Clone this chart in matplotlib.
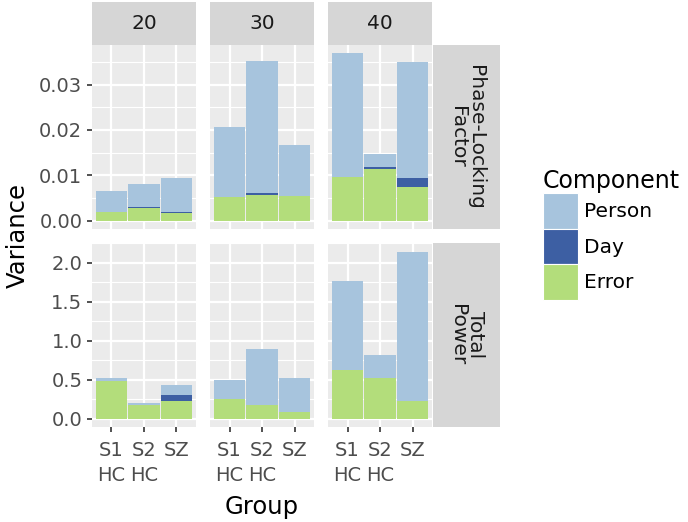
import numpy as np
import matplotlib
matplotlib.use("Agg")
import matplotlib.pyplot as plt
from matplotlib.patches import Patch

plt.rcParams['font.family'] = ['DejaVu Sans']

# Data
groups = ["S1\nHC", "S2\nHC", "SZ"]
freqs = ["20", "30", "40"]
measures = ["Phase-Locking\nFactor", "Total\nPower"]
components = ["Person", "Day", "Error"]

plf_error = [[0.0019, 0.0027, 0.0016], [0.0052, 0.0057, 0.0055], [0.0096, 0.0113, 0.0074]]
plf_day = [[0.0000, 0.0003, 0.0002], [0.0000, 0.0004, 0.0000], [0.0000, 0.0006, 0.0021]]
plf_person = [[0.00465, 0.0051, 0.0077], [0.0154, 0.0291, 0.0111], [0.0273, 0.0027, 0.0255]]

tp_error = [[0.485, 0.173, 0.224], [0.249, 0.169, 0.080], [0.629, 0.527, 0.224]]
tp_day = [[0.000, 0.005, 0.084], [0.000, 0.000, 0.000], [0.000, 0.000, 0.000]]
tp_person = [[0.034, 0.022, 0.118], [0.249, 0.717, 0.447], [1.135, 0.292, 1.911]]

colors = {"Person": "#A7C4DD", "Day": "#3D5FA3", "Error": "#B3DD7B"}
panel_bg = "#EBEBEB"
strip_bg = "#D6D6D6"
text_col = "#4D4D4D"

W, H = 688, 522
fig = plt.figure(figsize=(W / 100, H / 100), dpi=100)


def px_axes(x0, y0, x1, y1):
    """axes from pixel box (top-left origin)"""
    return fig.add_axes([x0 / W, 1 - y1 / H, (x1 - x0) / W, (y1 - y0) / H])


col_x = [(92, 196), (210, 314), (328, 432)]
row_y = [(45, 229), (243, 427)]
data = [(plf_error, plf_day, plf_person), (tp_error, tp_day, tp_person)]
yticks = [[0.0, 0.01, 0.02, 0.03], [0.0, 0.5, 1.0, 1.5, 2.0]]
yticklabels = [["0.00", "0.01", "0.02", "0.03"], ["0.0", "0.5", "1.0", "1.5", "2.0"]]
yminor = [[0.005, 0.015, 0.025, 0.035], [0.25, 0.75, 1.25, 1.75, 2.25]]

x = np.arange(len(groups))
for r in range(2):
    err, day, per = [np.array(a) for a in data[r]]
    total_max = (err + day + per).max()
    pad = total_max * 0.05
    for c in range(3):
        ax = px_axes(col_x[c][0], row_y[r][0], col_x[c][1], row_y[r][1])
        ax.set_facecolor(panel_bg)
        for s in ax.spines.values():
            s.set_visible(False)
        ax.set_xlim(-0.6, 2.6)
        ax.set_ylim(-pad, total_max + pad)
        ax.set_xticks(x)
        ax.set_yticks(yticks[r])
        ax.set_yticks(yminor[r], minor=True)
        ax.grid(True, which='major', color='white', linewidth=1.6)
        ax.grid(True, which='minor', axis='y', color='white', linewidth=0.8)
        ax.set_axisbelow(True)
        ax.bar(x, err[c], width=0.96, color=colors["Error"])
        ax.bar(x, day[c], width=0.96, bottom=err[c], color=colors["Day"])
        ax.bar(x, per[c], width=0.96, bottom=err[c] + day[c], color=colors["Person"])
        ax.tick_params(which='minor', length=0)
        ax.tick_params(which='major', length=3.5, width=1.2, color="#333333",
                       labelsize=14, labelcolor=text_col, pad=3.5)
        if c == 0:
            ax.set_yticklabels(yticklabels[r])
        else:
            ax.tick_params(axis='y', length=0, labelleft=False)
        if r == 1:
            ax.set_xticklabels(groups, linespacing=1.4)
            ax.tick_params(axis='x', pad=6.5)
        else:
            ax.tick_params(axis='x', length=0, labelbottom=False)

# top strips
for c in range(3):
    sa = px_axes(col_x[c][0], 2, col_x[c][1], 45)
    sa.set_facecolor(strip_bg)
    sa.set_xticks([])
    sa.set_yticks([])
    for s in sa.spines.values():
        s.set_visible(False)
    sa.text(0.5, 0.5, freqs[c], ha='center', va='center', fontsize=14.5, color="#1A1A1A",
            transform=sa.transAxes)

# right strips
for r in range(2):
    sa = px_axes(433, row_y[r][0], 500, row_y[r][1])
    sa.set_facecolor(strip_bg)
    sa.set_xticks([])
    sa.set_yticks([])
    for s in sa.spines.values():
        s.set_visible(False)
    sa.text(0.5, 0.5, measures[r], ha='center', va='center', fontsize=14.5, color="#1A1A1A",
            rotation=-90, multialignment='center', linespacing=1.0, transform=sa.transAxes)

fig.text(18 / W, 1 - 236 / H, "Variance", rotation=90, ha='center', va='center', fontsize=17.5)
fig.text(262 / W, 1 - 507 / H, "Group", ha='center', va='center', fontsize=17.5)

handles = [Patch(facecolor=colors[k], edgecolor='white', linewidth=0.8) for k in components]
fig.legend(handles, components, loc='upper left', bbox_to_anchor=(543 / W, 1 - 169 / H),
           frameon=False, title="Component", title_fontsize=17, fontsize=14.5,
           handlelength=1.74, handleheight=2.35, handletextpad=0.3, labelspacing=0.0,
           borderaxespad=0, borderpad=0, alignment='left')

fig.savefig("out.png", dpi=100)
